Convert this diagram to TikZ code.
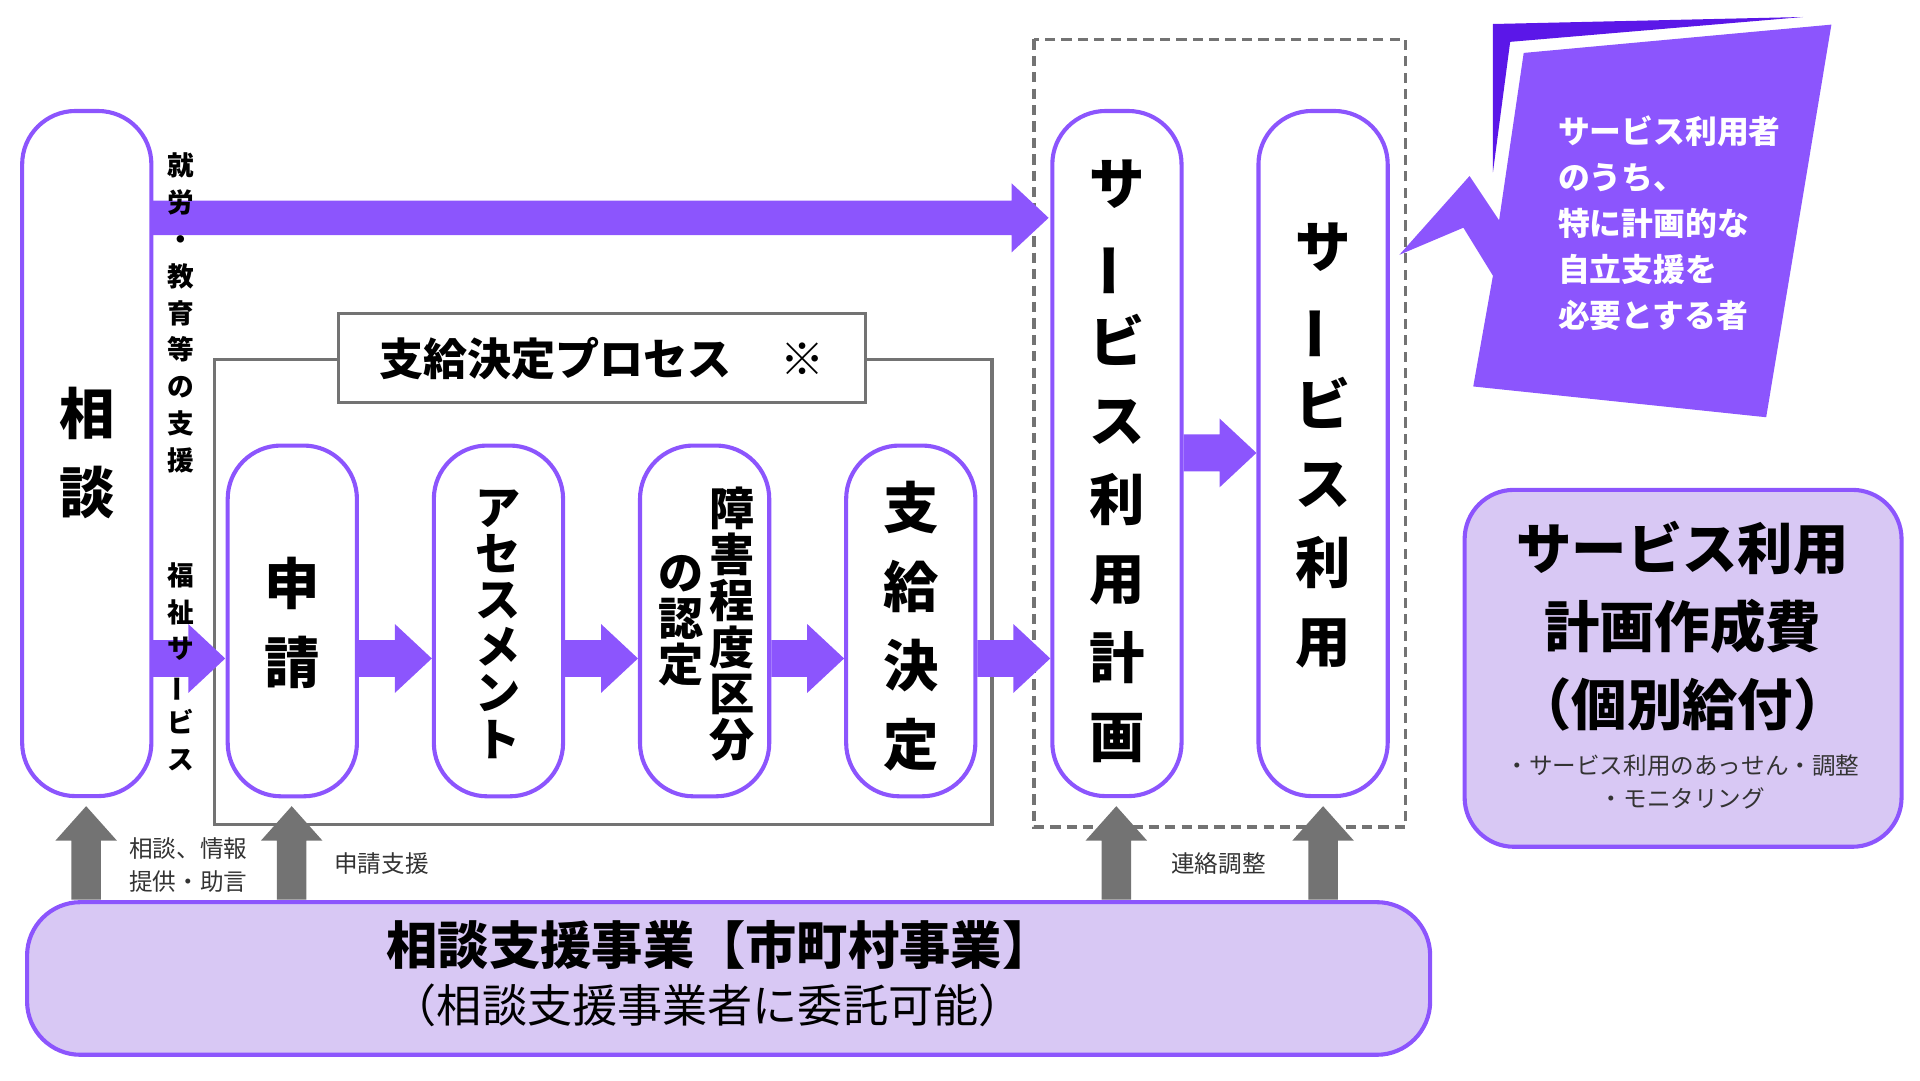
\documentclass[tikz,border=0pt]{standalone}
\usepackage{fontspec}
\setmainfont{Noto Sans CJK JP}
\usetikzlibrary{calc}
\definecolor{pur}{HTML}{8C55FD}
\definecolor{dpur}{HTML}{5B17E8}
\definecolor{lav}{HTML}{D8C8F4}
\definecolor{gry}{HTML}{737373}
\newcommand\vb{\rotatebox[origin=c]{90}{ー}}
\newcommand\harr[3]{\fill[#3] let \p1=(#1), \p2=(#2) in (\x1,\y1+9pt) -- (\x2-18pt,\y1+9pt) -- (\x2-18pt,\y1+16.8pt) -- (\x2,\y1) -- (\x2-18pt,\y1-16.8pt) -- (\x2-18pt,\y1-9pt) -- (\x1,\y1-9pt) -- cycle;}
\newcommand\varr[2]{\fill[gry] let \p1=(#1), \p2=(#2) in (\x1-7.2pt,\y1) -- (\x1-7.2pt,\y2-16.8pt) -- (\x1-15pt,\y2-16.8pt) -- (\x1,\y2) -- (\x1+15pt,\y2-16.8pt) -- (\x1+7.2pt,\y2-16.8pt) -- (\x1+7.2pt,\y1) -- cycle;}
\begin{document}
\begin{tikzpicture}[x={(0.6pt,0)},y={(0,-0.6pt)},
 pbox/.style={draw=pur,line width=2pt,fill=white,rounded corners=26pt,inner sep=0},
 vtxt/.style={align=center,font=\bfseries\fontsize{27}{38.5}\selectfont},
 stxt/.style={align=center,font=\bfseries\fontsize{22}{22.6}\selectfont},
 ltxt/.style={align=center,font=\bfseries\fontsize{13}{18}\selectfont},
 small/.style={font=\fontsize{11.5}{16}\selectfont,text=black!80}]
\useasboundingbox (0,0) rectangle (1560,877.5);
% dashed frame
\draw[gry,dash pattern=on 5pt off 3pt,line width=1.6pt] (840,32) rectangle (1142,672);
% process frame
\draw[gry,line width=1.5pt] (174,292) rectangle (806,670);
% boxes
\node[pbox,minimum width=63pt,minimum height=334pt] (sodan) at (70.5,368.5) {};
\node[vtxt] at (70.5,368) {相\\談};
\node[pbox,minimum width=63pt,minimum height=171pt] (shinsei) at (237.5,504.5) {};
\node[vtxt] at (237.5,506) {申\\請};
\node[pbox,minimum width=63pt,minimum height=171pt] (assess) at (405,504.5) {};
\node[stxt] at (405,507) {ア\\セ\\ス\\メ\\ン\\ト};
\node[pbox,minimum width=63pt,minimum height=171pt] (nintei) at (572.5,504.5) {};
\node[stxt] at (595,507) {障\\害\\程\\度\\区\\分};
\node[stxt,anchor=north] at (553,445) {の\\認\\定};
\node[pbox,minimum width=63pt,minimum height=171pt] (kettei) at (740,504.5) {};
\node[vtxt] at (740,509) {支\\給\\決\\定};
\node[pbox,minimum width=63pt,minimum height=334pt] (keikaku) at (907.5,368.5) {};
\node[vtxt] at (907.5,375) {サ\\\vb\\ビ\\ス\\利\\用\\計\\画};
\node[pbox,minimum width=63pt,minimum height=334pt] (riyou) at (1075,368.5) {};
\node[vtxt] at (1075,362) {サ\\\vb\\ビ\\ス\\利\\用};
% title box
\node[draw=gry,line width=1.5pt,fill=white,minimum width=256.8pt,minimum height=43.2pt,font=\bfseries\fontsize{21.5}{24}\selectfont] (title) at (489,291) {支給決定プロセス\hspace{1.1em}※};
% arrows
\coordinate (t1) at (123,177); \coordinate (t2) at (852,177);
\fill[pur] let \p1=(t1), \p2=(t2) in (\x1,\y1+8.4pt) -- (\x2-18pt,\y1+8.4pt) -- (\x2-18pt,\y1+16.8pt) -- (\x2,\y1) -- (\x2-18pt,\y1-16.8pt) -- (\x2-18pt,\y1-8.4pt) -- (\x1,\y1-8.4pt) -- cycle;
\coordinate (a0) at (123,535); \coordinate (a0e) at (183,535);
\harr{a0}{a0e}{pur}
\harr{shinsei.east|-a0}{assess.west|-a0}{pur}
\harr{assess.east|-a0}{nintei.west|-a0}{pur}
\harr{nintei.east|-a0}{kettei.west|-a0}{pur}
\harr{kettei.east|-a0}{keikaku.west|-a0}{pur}
\coordinate (m) at (0,368);
\harr{keikaku.east|-m}{riyou.west|-m}{pur}
% vertical labels
\node[ltxt,anchor=north] at (147,118) {就\\労\\・\\教\\育\\等\\の\\支\\援};
\node[ltxt,anchor=north] at (147,451) {福\\祉\\サ\\\vb\\ビ\\ス};
% bottom box
\node[draw=pur,line width=2pt,fill=lav,rounded corners=26pt,minimum width=684pt,minimum height=74.4pt] (jigyo) at (592,795) {};
\node[font=\bfseries\fontsize{25}{30}\selectfont] at (585,768) {相談支援事業【市町村事業】};
\node[font=\fontsize{22}{26}\selectfont] at (575,817) {（相談支援事業者に委託可能）};
% gray arrows
\coordinate (g1) at (70,731); \coordinate (g1e) at (70,655);
\coordinate (g2) at (237,731); \coordinate (g2e) at (237,655);
\coordinate (g3) at (907,731); \coordinate (g3e) at (907,655);
\coordinate (g4) at (1075,731); \coordinate (g4e) at (1075,655);
\varr{g1}{g1e}\varr{g2}{g2e}\varr{g3}{g3e}\varr{g4}{g4e}
\node[small,align=left] at (153,703) {相談、情報\\提供・助言};
\node[small] at (310,702) {申請支援};
\node[small] at (990,702) {連絡調整};
% right box
\node[draw=pur,line width=2pt,fill=lav,rounded corners=24pt,minimum width=213pt,minimum height=174pt] (hi) at (1367.5,543) {};
\node[align=center,font=\bfseries\fontsize{27}{38}\selectfont] at (1367,509) {サービス利用\\計画作成費\\（個別給付）};
\node[small,align=center] at (1367,635) {・サービス利用のあっせん・調整\\・モニタリング};
% callout
\fill[dpur] (1213,19.5) -- (1465,13.8) -- (1227,34) -- (1213,140) -- cycle;
\fill[pur] (1238,43) -- (1488,20) -- (1435,339) -- (1197,314) -- (1213,224) -- (1189,185) -- (1137,207) -- (1194,143) -- (1218,179) -- cycle;
\node[align=left,anchor=north west,text=white,font=\bfseries\fontsize{15.5}{22.5}\selectfont] (call) at (1260,88) {サービス利用者\\のうち、\\特に計画的な\\自立支援を\\必要とする者};
\end{tikzpicture}
\end{document}
